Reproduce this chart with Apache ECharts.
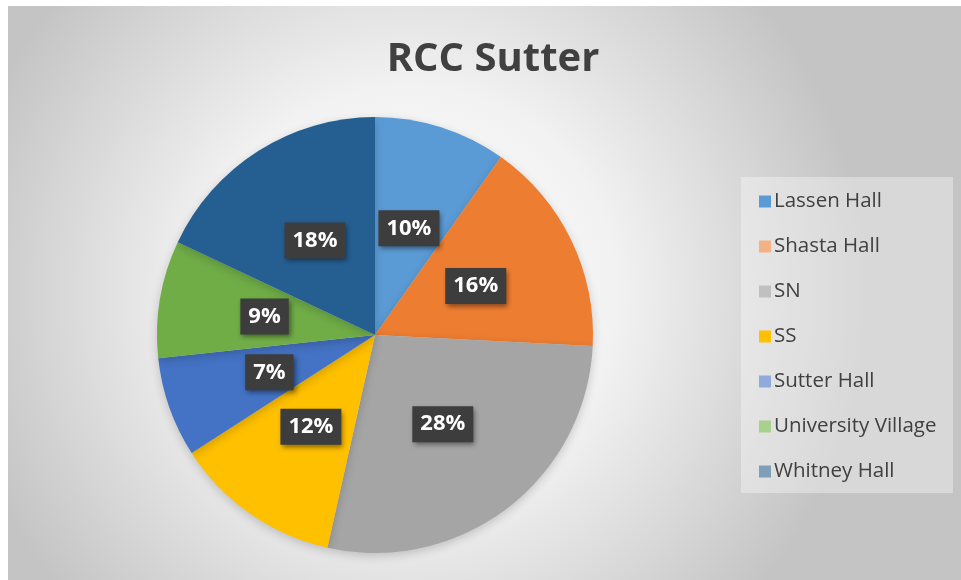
<!DOCTYPE html>
<html>
<head>
<meta charset="utf-8">
<script src="https://cdn.jsdelivr.net/npm/echarts@6/dist/echarts.min.js"></script>
<style>
html, body { margin: 0; padding: 0; background: #ffffff; }
#rcc_chart { position: absolute; left: 8px; top: 6px; width: 953px; height: 574px; }
</style>
</head>
<body>
<div id="rcc_chart"></div>
<script>
// slices, clockwise from 12 o'clock
let halls = ["Lassen Hall", "Shasta Hall", "SN", "SS", "Sutter Hall", "University Village", "Whitney Hall"];
let shares = [9.8, 16.0, 27.7, 12.4, 7.4, 8.7, 18.0];
let sliceColors = ["#5b9bd5", "#ed7d31", "#a5a5a5", "#ffc000", "#4472c4", "#70ad47", "#255e91"];
let legendColors = ["#5b9bd5", "#f4b183", "#c0c0c0", "#ffc000", "#8faadc", "#a9d18e", "#7f9fb8"];

let chart = echarts.init(document.getElementById("rcc_chart"));

let pieData = [];
let legendData = [];
halls.forEach((name, i) => {
    pieData.push({ name: name, value: shares[i], itemStyle: { color: sliceColors[i] } });
    legendData.push({ name: name, itemStyle: { color: legendColors[i] } });
});

chart.setOption({
    backgroundColor: {
        type: "radial",
        x: 0.42, y: 0.5, r: 0.8,
        colorStops: [
            { offset: 0, color: "#ffffff" },
            { offset: 0.45, color: "#f2f2f2" },
            { offset: 1, color: "#c4c4c4" }
        ]
    },
    title: {
        text: "RCC Sutter",
        left: 480,
        top: 29,
        textAlign: "center",
        textStyle: {
            fontFamily: "Open Sans",
            fontSize: 40,
            fontWeight: "bold",
            color: "#404040"
        }
    },
    graphic: [{
        type: "rect",
        shape: { x: 733, y: 171, width: 212, height: 316 },
        style: { fill: "rgba(255,255,255,0.35)" },
        z: 0
    }],
    legend: {
        orient: "vertical",
        left: 746,
        top: 180,
        itemWidth: 12,
        itemHeight: 12,
        itemGap: 24,
        icon: "rect",
        data: legendData,
        textStyle: {
            fontFamily: "Open Sans",
            fontSize: 20.5,
            lineHeight: 20,
            color: "#404040",
            padding: [0, 0, 0, -2]
        }
    },
    series: [{
        type: "pie",
        center: [367, 329],
        radius: 218,
        startAngle: 90,
        clockwise: true,
        silent: true,
        data: pieData,
        itemStyle: {
            shadowColor: "rgba(0,0,0,0.18)",
            shadowBlur: 10,
            shadowOffsetY: 3
        },
        label: {
            position: "inside",
            formatter: p => Math.round(p.percent) + "%",
            fontFamily: "Open Sans",
            fontSize: 22,
            fontWeight: "bold",
            color: "#ffffff",
            backgroundColor: "#3d3d3d",
            padding: [8, 8, 6, 8],
            shadowColor: "rgba(0,0,0,0.45)",
            shadowBlur: 5,
            shadowOffsetX: 2,
            shadowOffsetY: 3
        },
        labelLine: { show: false }
    }]
});

window.addEventListener("resize", function() {
    chart.resize();
});
</script>
</body>
</html>
